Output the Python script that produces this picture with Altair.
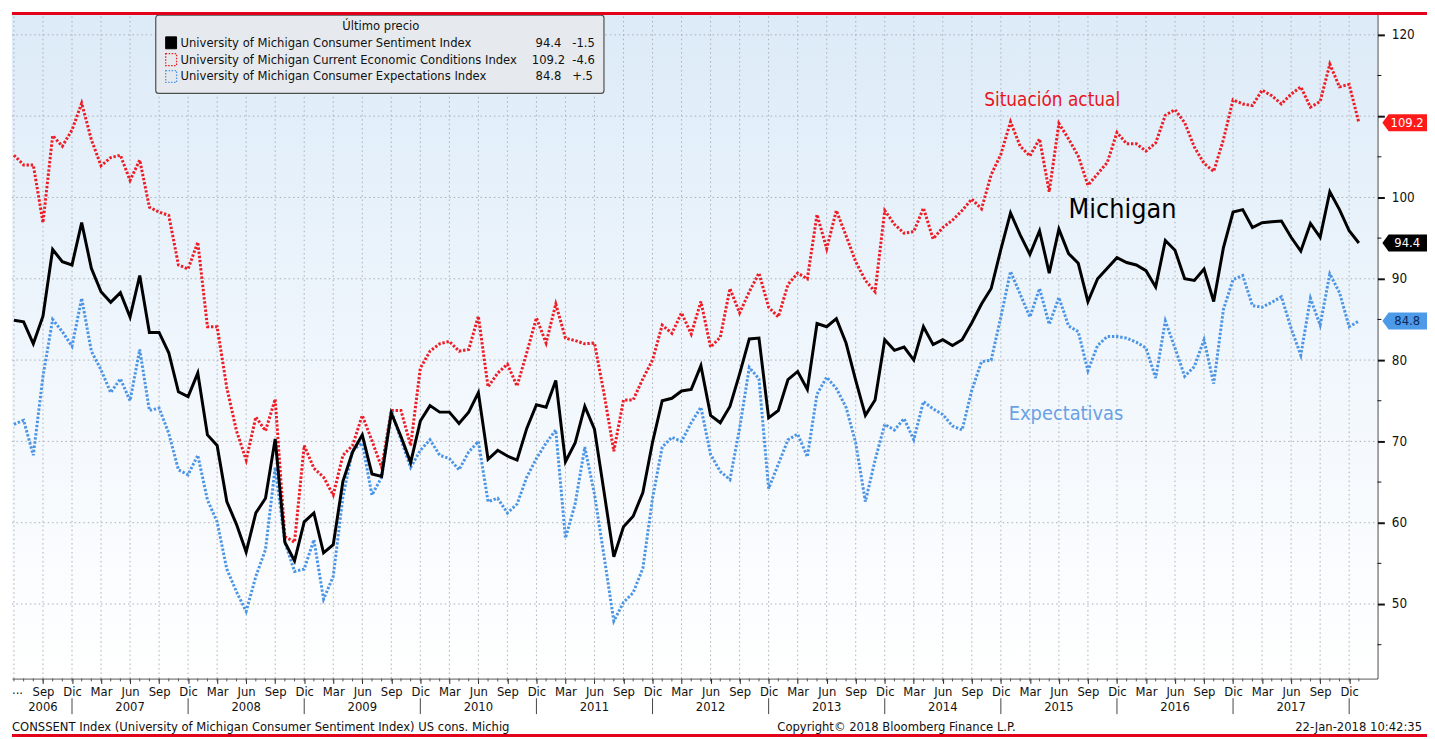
import json
import altair as alt
import pandas as pd

# ---------------- data (monthly, Jun 2006 .. Jan 2018) ----------------
sentiment = [
    84.9, 84.7, 82.0, 85.4, 93.6, 92.1, 91.7,
    96.9, 91.3, 88.4, 87.1, 88.3, 85.3, 90.4, 83.4, 83.4, 80.9, 76.1, 75.5,
    78.4, 70.8, 69.5, 62.6, 59.8, 56.4, 61.2, 63.0, 70.3, 57.6, 55.3, 60.1,
    61.2, 56.3, 57.3, 65.1, 68.7, 70.8, 66.0, 65.7, 73.5, 70.6, 67.4, 72.5,
    74.4, 73.6, 73.6, 72.2, 73.6, 76.0, 67.8, 68.9, 68.2, 67.7, 71.6, 74.5,
    74.2, 77.5, 67.5, 69.8, 74.3, 71.5, 63.7, 55.8, 59.5, 60.8, 63.7, 69.9,
    75.0, 75.3, 76.2, 76.4, 79.3, 73.2, 72.3, 74.3, 78.3, 82.6, 82.7, 72.9,
    73.8, 77.6, 78.6, 76.4, 84.5, 84.1, 85.1, 82.1, 77.5, 73.2, 75.1, 82.5,
    81.2, 81.6, 80.0, 84.1, 81.9, 82.5, 81.8, 82.5, 84.6, 86.9, 88.8, 93.6,
    98.1, 95.4, 93.0, 95.9, 90.7, 96.1, 93.1, 91.9, 87.2, 90.0, 91.3, 92.6,
    92.0, 91.7, 91.0, 89.0, 94.7, 93.5, 90.0, 89.8, 91.2, 87.2, 93.8, 98.2,
    98.5, 96.3, 96.9, 97.0, 97.1, 95.1, 93.4, 96.8, 95.1, 100.7, 98.5, 95.9,
    94.4,
]
current = [
    105.2, 104.0, 104.0, 96.9, 107.6, 106.3, 108.3,
    111.6, 107.1, 103.9, 104.9, 105.2, 102.1, 104.6, 98.8, 98.2, 97.8, 91.7, 91.2,
    94.5, 84.1, 84.1, 76.6, 71.3, 67.7, 73.0, 71.3, 75.2, 58.3, 57.6, 69.5,
    66.7, 65.6, 63.4, 68.3, 69.5, 73.2, 70.1, 66.8, 73.8, 73.8, 69.5, 79.0,
    81.1, 82.0, 82.3, 81.1, 81.3, 85.4, 76.7, 78.4, 79.5, 76.8, 80.9, 85.2,
    82.1, 86.9, 82.7, 82.4, 82.0, 82.1, 75.8, 68.8, 75.1, 75.1, 77.7, 80.0,
    84.3, 83.3, 85.8, 83.2, 87.2, 81.6, 82.8, 88.8, 85.8, 88.4, 90.7, 86.5,
    85.3, 89.3, 90.7, 90.0, 97.9, 93.7, 98.4, 95.3, 92.1, 89.8, 88.4, 98.4,
    96.7, 95.6, 95.8, 98.7, 94.9, 96.3, 97.2, 98.4, 99.8, 98.6, 102.8, 105.3,
    109.3, 106.3, 105.1, 107.2, 100.7, 109.1, 107.2, 105.1, 101.5, 102.9, 104.3, 108.0,
    106.6, 106.6, 105.7, 106.7, 110.1, 110.8, 109.2, 106.2, 104.2, 103.2, 107.1, 112.0,
    111.5, 111.3, 113.2, 112.5, 111.5, 112.7, 113.6, 111.1, 111.8, 116.4, 113.6, 113.9,
    109.2,
]
expectations = [
    72.1, 72.6, 68.3, 78.0, 85.0, 83.5, 81.7,
    87.6, 81.1, 78.8, 76.0, 77.7, 75.0, 81.3, 73.8, 74.1, 71.0, 66.5, 65.9,
    68.3, 62.8, 60.1, 54.3, 51.5, 49.1, 53.4, 56.7, 66.8, 57.6, 54.0, 54.3,
    57.9, 50.6, 53.4, 63.2, 68.9, 69.8, 63.4, 65.6, 73.8, 70.2, 66.8, 68.9,
    70.2, 68.3, 67.9, 66.5, 68.7, 70.0, 62.6, 63.0, 61.2, 62.3, 65.6, 67.9,
    69.8, 71.4, 58.1, 62.3, 69.3, 63.5, 55.8, 47.9, 50.2, 51.4, 54.4, 63.0,
    69.3, 70.5, 70.0, 72.3, 74.2, 68.4, 66.3, 65.3, 71.6, 79.1, 77.7, 64.2,
    67.2, 70.2, 70.9, 68.1, 75.8, 77.9, 76.5, 74.2, 69.8, 62.6, 67.7, 72.1,
    71.4, 72.8, 70.2, 74.9, 74.0, 73.3, 71.9, 71.4, 76.3, 79.8, 80.0, 85.3,
    90.9, 88.1, 85.3, 88.8, 84.4, 87.7, 84.2, 83.5, 78.7, 81.8, 82.9, 82.9,
    82.7, 82.2, 81.5, 77.8, 84.8, 81.5, 78.0, 79.2, 82.5, 77.1, 86.2, 89.9,
    90.4, 86.7, 86.5, 87.1, 87.8, 83.9, 80.6, 87.6, 84.3, 90.6, 88.3, 84.1,
    84.8,
]

n = len(sentiment)
months = list(range(n))                      # 0 = Jun 2006
month_names = ["Jun", "Jul", "Ago", "Sep", "Oct", "Nov",
               "Dic", "Ene", "Feb", "Mar", "Abr", "May"]   # index = m % 12
quarter_pos = list(range(3, n, 3))          # labelled ticks (Sep 2006 .. Dic 2017)
grid_pos = list(range(0, n, 3))
year_pos = [3] + list(range(12, n, 12))
year_lbl = [str(2006 + i) for i in range(len(year_pos))]
dec_pos = list(range(6, n, 12))
y_major = [50, 60, 70, 80, 90, 100, 110, 120]
y_hidden = [110]                             # label covered by the last-price tag
y_minor = [45, 55, 65, 75, 85, 95, 105, 115]

legend_title = "Último precio"
legend_names = [
    "University of Michigan Consumer Sentiment Index",
    "University of Michigan Current Economic Conditions Index",
    "University of Michigan Consumer Expectations Index",
]
legend_last = ["94.4", "109.2", "84.8"]
legend_change = ["-1.5", "-4.6", "+.5"]

footer_left = "CONSSENT Index (University of Michigan Consumer Sentiment Index) US cons. Michig"
footer_mid = "Copyright© 2018 Bloomberg Finance L.P."
footer_right = "22-Jan-2018 10:42:35"

# ---------------- styling ----------------
W, H = 1377, 672
FONT = "DejaVu Sans Condensed, Liberation Sans, Arial, sans-serif"
RED = "#ee1c24"
BLUE = "#4b95e4"
BLACK = "#000000"
TXT = "#111111"
GRID = "#a9aeb6"
LEG_FS = 13

xscale = alt.Scale(domain=[-0.205, 140.92], nice=False, zero=False)
yscale = alt.Scale(domain=[40.85, 122.80], nice=False, zero=False)

label_expr = json.dumps(month_names) + "[datum.value % 12]"
xaxis = alt.Axis(values=quarter_pos, labelExpr=label_expr, grid=False, tickSize=5,
                 tickColor="#222222", tickWidth=1, domainColor="#111111", domainWidth=1,
                 labelFont=FONT, labelFontSize=13, labelColor=TXT, labelPadding=2,
                 labelOverlap=False, labelFlush=False, labelBound=False, title=None)
y_label_expr = "indexof(" + json.dumps(y_hidden) + ", datum.value) >= 0 ? '' : datum.label"
yaxis = alt.Axis(orient="right", values=y_major, grid=False, tickSize=7, tickWidth=2,
                 tickColor="#111111", domainColor="#111111", domainWidth=1,
                 labelFont=FONT, labelFontSize=13.5, labelColor=TXT, labelPadding=7,
                 labelExpr=y_label_expr,
                 labelFlush=False, labelBound=False, title=None)
X = alt.X("m:Q", scale=xscale, axis=xaxis)
Y = alt.Y("v:Q", scale=yscale, axis=yaxis)

one = pd.DataFrame({"k": [0]})
layers = []

# background gradient
layers.append(
    alt.Chart(one).mark_rect(
        color=alt.LinearGradient(
            gradient="linear", x1=0, y1=0, x2=0, y2=1,
            stops=[alt.GradientStop(color="#dcebf8", offset=0),
                   alt.GradientStop(color="#f3f8fd", offset=0.6),
                   alt.GradientStop(color="#ffffff", offset=1)])
    ).encode(x=alt.value(0), x2=alt.value(W), y=alt.value(0), y2=alt.value(H))
)

# grid
layers.append(
    alt.Chart(pd.DataFrame({"m": grid_pos})).mark_rule(
        color=GRID, strokeWidth=1, strokeDash=[1.5, 3]
    ).encode(x=X, y=alt.value(0), y2=alt.value(H))
)
layers.append(
    alt.Chart(pd.DataFrame({"v": y_major})).mark_rule(
        color=GRID, strokeWidth=1, strokeDash=[1.5, 3]
    ).encode(y=Y, x=alt.value(0), x2=alt.value(W))
)

# series
layers.append(
    alt.Chart(pd.DataFrame({"m": months, "v": current})).mark_line(
        color=RED, strokeWidth=3, strokeDash=[2.4, 1.8]
    ).encode(x=X, y=Y)
)
layers.append(
    alt.Chart(pd.DataFrame({"m": months, "v": expectations})).mark_line(
        color=BLUE, strokeWidth=3, strokeDash=[2.4, 1.8]
    ).encode(x=X, y=Y)
)
layers.append(
    alt.Chart(pd.DataFrame({"m": months, "v": sentiment})).mark_line(
        color=BLACK, strokeWidth=3
    ).encode(x=X, y=Y)
)

# x-axis month ticks, year separators and year labels
layers.append(
    alt.Chart(pd.DataFrame({"m": months})).mark_rule(color="#555555", strokeWidth=1)
    .encode(x=X, y=alt.value(H), y2=alt.value(H + 3))
)
layers.append(
    alt.Chart(pd.DataFrame({"m": dec_pos})).mark_rule(color="#444444", strokeWidth=1)
    .encode(x=X, y=alt.value(692), y2=alt.value(708))
)
layers.append(
    alt.Chart(pd.DataFrame({"m": year_pos, "t": year_lbl})).mark_text(
        font=FONT, fontSize=13, color=TXT, baseline="middle", align="center"
    ).encode(x=X, y=alt.value(701), text="t:N")
)
layers.append(
    alt.Chart(one).mark_text(text="...", font=FONT, fontSize=13, color=TXT,
                             baseline="middle", align="left")
    .encode(x=alt.value(0), y=alt.value(684))
)

# y minor ticks
layers.append(
    alt.Chart(pd.DataFrame({"v": y_minor})).mark_rule(color="#111111", strokeWidth=1)
    .encode(y=Y, x=alt.value(W), x2=alt.value(W + 4))
)

# last value tags on the right axis
TAG_PATH = "M-1,0 L-0.72,-0.38 L1,-0.38 L1,0.38 L-0.72,0.38 Z"
tags = pd.DataFrame({
    "v": [current[-1], sentiment[-1], expectations[-1]],
    "t": [f"{current[-1]:.1f}", f"{sentiment[-1]:.1f}", f"{expectations[-1]:.1f}"],
    "f": ["#ff1a1a", "#000000", "#4d9be8"],
    "c": ["#ffffff", "#ffffff", "#0b2a5c"],
})
layers.append(
    alt.Chart(tags).mark_point(shape=TAG_PATH, size=2025, filled=True, opacity=1,
                               strokeWidth=0)
    .encode(x=alt.value(1404.5), y=Y, fill=alt.Fill("f:N", scale=None))
)
layers.append(
    alt.Chart(tags).mark_text(font=FONT, fontSize=13, baseline="middle", align="center")
    .encode(x=alt.value(1407), y=Y, text="t:N", color=alt.Color("c:N", scale=None))
)

# annotations
layers.append(
    alt.Chart(one).mark_text(text="Situación actual", font=FONT, fontSize=19, color="#e8141c",
                             baseline="middle", align="center")
    .encode(x=alt.value(1049), y=alt.value(89))
)
layers.append(
    alt.Chart(one).mark_text(text="Michigan", font=FONT, fontSize=27, color="#000000",
                             baseline="middle", align="center")
    .encode(x=alt.value(1120), y=alt.value(200))
)
layers.append(
    alt.Chart(one).mark_text(text="Expectativas", font=FONT, fontSize=20, color="#6aa1e4",
                             baseline="middle", align="center")
    .encode(x=alt.value(1063), y=alt.value(405))
)

# legend box
layers.append(
    alt.Chart(one).mark_rect(fill="#e6e9ed", fillOpacity=0.96, stroke="#4f4f4f",
                             strokeWidth=1.2, cornerRadius=3)
    .encode(x=alt.value(145), x2=alt.value(597), y=alt.value(3), y2=alt.value(82))
)
layers.append(
    alt.Chart(one).mark_text(text=legend_title, font=FONT, fontSize=LEG_FS, color=TXT,
                             baseline="middle", align="center")
    .encode(x=alt.value(372), y=alt.value(14))
)
sw_style = [
    dict(fill="#000000", stroke="#000000", strokeWidth=1),
    dict(fill="#ffffff", fillOpacity=0, stroke=RED, strokeWidth=1.3, strokeDash=[1.5, 1.5]),
    dict(fill="#ffffff", fillOpacity=0, stroke=BLUE, strokeWidth=1.3, strokeDash=[1.5, 1.5]),
]
for i in range(3):
    ry = 31 + 17 * i
    layers.append(
        alt.Chart(one).mark_rect(**sw_style[i])
        .encode(x=alt.value(155), x2=alt.value(166), y=alt.value(ry - 6), y2=alt.value(ry + 6))
    )
    layers.append(
        alt.Chart(one).mark_text(text=legend_names[i], font=FONT, fontSize=LEG_FS, color=TXT,
                                 baseline="middle", align="left")
        .encode(x=alt.value(170), y=alt.value(ry))
    )
    layers.append(
        alt.Chart(one).mark_text(text=legend_last[i], font=FONT, fontSize=LEG_FS, color=TXT,
                                 baseline="middle", align="center")
        .encode(x=alt.value(541), y=alt.value(ry))
    )
    layers.append(
        alt.Chart(one).mark_text(text=legend_change[i], font=FONT, fontSize=LEG_FS, color=TXT,
                                 baseline="middle", align="left")
        .encode(x=alt.value(565), y=alt.value(ry))
    )

# footer
layers.append(
    alt.Chart(one).mark_text(text=footer_left, font=FONT, fontSize=13, color=TXT,
                             baseline="middle", align="left")
    .encode(x=alt.value(0), y=alt.value(721))
)
layers.append(
    alt.Chart(one).mark_text(text=footer_mid, font=FONT, fontSize=13, color=TXT,
                             baseline="middle", align="center")
    .encode(x=alt.value(892), y=alt.value(721))
)
layers.append(
    alt.Chart(one).mark_text(text=footer_right, font=FONT, fontSize=13, color=TXT,
                             baseline="middle", align="right")
    .encode(x=alt.value(1422), y=alt.value(721))
)

# red frame bars
layers.append(
    alt.Chart(one).mark_rect(color="#e2001a")
    .encode(x=alt.value(0), x2=alt.value(1427), y=alt.value(0), y2=alt.value(3))
)
layers.append(
    alt.Chart(one).mark_rect(color="#e2001a")
    .encode(x=alt.value(0), x2=alt.value(1427), y=alt.value(728), y2=alt.value(731))
)

chart = alt.layer(*layers).properties(width=W, height=H, padding=0).configure_view(stroke=None)

chart.save("out.html", embed_options={"renderer": "svg", "actions": False})
